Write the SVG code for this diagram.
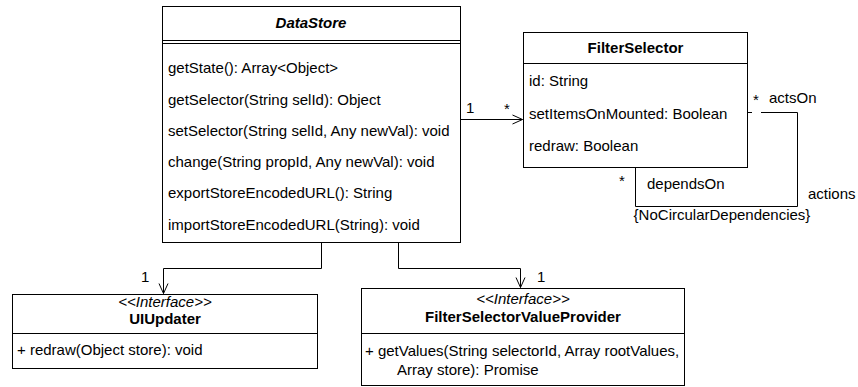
<svg xmlns="http://www.w3.org/2000/svg" width="858" height="387" viewBox="0 0 858 387">
<defs>
<marker id="open" markerWidth="12" markerHeight="12" refX="11" refY="6" orient="auto" markerUnits="userSpaceOnUse">
<path d="M1,1.5 L11,6 L1,10.5" fill="none" stroke="#000" stroke-width="1"/>
</marker>
</defs>
<style>
text{font-family:"Liberation Sans",Arial,sans-serif;font-size:15px;fill:#000}
.b{font-weight:bold}
.bi{font-weight:bold;font-style:italic}
.i{font-style:italic}
.m{text-anchor:middle}
.box{fill:#fff;stroke:#000;stroke-width:1}
.ln{stroke:#000;stroke-width:1;fill:none}
.conn{stroke:#000;stroke-width:1;fill:none}
</style>
<rect width="858" height="387" fill="#fff"/>
<g id="connectors">
<path class="conn" d="M321.5 243 V268.5 H163.5 V293.5" marker-end="url(#open)"/>
<path class="conn" d="M398.5 243 V268.5 H520.5 V287.5" marker-end="url(#open)"/>
<path class="conn" d="M461 119.5 H522.5" marker-end="url(#open)"/>
<path class="conn" d="M747 112.5 H752 M761 112.5 H797.5 V206.5 H635.5 V168"/>
<text x="141" y="282">1</text>
<text x="537" y="282">1</text>
<text x="466" y="113">1</text>
<text x="504" y="114">*</text>
<text x="753" y="105">*</text>
<text x="769" y="103">actsOn</text>
<text x="619" y="186">*</text>
<text x="647" y="189">dependsOn</text>
<text x="808" y="199">actions</text>
<text x="722" y="220" class="m">{NoCircularDependencies}</text>
</g>
<g id="DataStore">
<rect class="box" x="162.5" y="6.5" width="298" height="236"/>
<text x="311" y="28" class="bi m">DataStore</text>
<line class="ln" x1="162" y1="40.5" x2="461" y2="40.5" stroke="#444"/>
<line class="ln" x1="162" y1="43.5" x2="461" y2="43.5" stroke="#444"/>
<text x="168" y="73">getState(): Array&lt;Object&gt;</text>
<text x="168" y="105">getSelector(String selId): Object</text>
<text x="168" y="136">setSelector(String selId, Any newVal): void</text>
<text x="168" y="167">change(String propId, Any newVal): void</text>
<text x="168" y="198">exportStoreEncodedURL(): String</text>
<text x="168" y="230">importStoreEncodedURL(String): void</text>
</g>
<g id="FilterSelector">
<rect class="box" x="523.5" y="32.5" width="224" height="135"/>
<text x="635.5" y="53" class="b m">FilterSelector</text>
<line class="ln" x1="523" y1="63.5" x2="748" y2="63.5"/>
<text x="529" y="86">id: String</text>
<text x="529" y="119">setItemsOnMounted: Boolean</text>
<text x="529" y="151">redraw: Boolean</text>
</g>
<g id="UIUpdater">
<rect class="box" x="12.5" y="294.5" width="305" height="74"/>
<text x="165" y="307" class="i m">&lt;&lt;Interface&gt;&gt;</text>
<text x="165" y="324" class="b m">UIUpdater</text>
<line class="ln" x1="12" y1="333.5" x2="318" y2="333.5"/>
<text x="17" y="355">+ redraw(Object store): void</text>
</g>
<g id="FilterSelectorValueProvider">
<rect class="box" x="361.5" y="288.5" width="323" height="97"/>
<text x="523" y="304" class="i m">&lt;&lt;Interface&gt;&gt;</text>
<text x="523" y="322" class="b m">FilterSelectorValueProvider</text>
<line class="ln" x1="361" y1="333.5" x2="685" y2="333.5"/>
<text x="365" y="356">+ getValues(String selectorId, Array rootValues,</text>
<text x="397" y="375">Array store): Promise</text>
</g>
</svg>
